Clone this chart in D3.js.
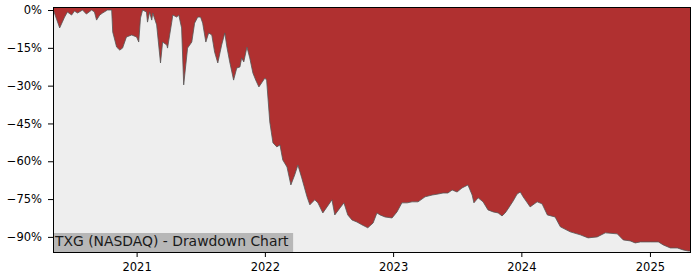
<!DOCTYPE html>
<html>
<head>
<meta charset="utf-8">
<script src="https://cdn.jsdelivr.net/npm/d3@7"></script>
<style>
  body { margin: 0; background: #fff; }
  .chart text { font-family: "DejaVu Sans", sans-serif; }
</style>
</head>
<body>
<div class="chart"></div>
<script>
// data (drawdown in percent)
var dates = [
  "2020-05-08", "2020-05-09", "2020-05-27", "2020-06-10", "2020-06-18", "2020-06-30", "2020-07-08",
  "2020-07-17", "2020-07-31", "2020-08-11", "2020-08-26", "2020-09-03", "2020-09-09", "2020-09-18",
  "2020-09-26", "2020-10-10", "2020-10-22", "2020-10-25", "2020-11-05", "2020-11-14", "2020-11-22",
  "2020-12-03", "2020-12-18", "2021-01-01", "2021-01-07", "2021-01-12", "2021-01-18", "2021-01-29",
  "2021-02-01", "2021-02-07", "2021-02-13", "2021-02-16", "2021-02-27", "2021-03-10", "2021-03-16",
  "2021-03-28", "2021-03-30", "2021-04-11", "2021-04-14", "2021-04-25", "2021-05-01", "2021-05-09",
  "2021-05-15", "2021-05-26", "2021-06-07", "2021-06-15", "2021-06-24", "2021-07-02", "2021-07-08",
  "2021-07-17", "2021-07-25", "2021-08-03", "2021-08-11", "2021-08-20", "2021-08-31", "2021-09-09",
  "2021-09-15", "2021-09-23", "2021-10-04", "2021-10-13", "2021-10-22", "2021-10-27", "2021-11-02",
  "2021-11-11", "2021-11-19", "2021-11-28", "2021-12-06", "2021-12-15", "2021-12-23", "2022-01-01",
  "2022-01-06", "2022-01-15", "2022-01-24", "2022-02-04", "2022-02-13", "2022-02-21", "2022-03-05",
  "2022-03-16", "2022-03-27", "2022-04-05", "2022-04-16", "2022-05-01", "2022-05-09", "2022-05-23",
  "2022-06-01", "2022-06-15", "2022-06-27", "2022-07-11", "2022-07-19", "2022-08-03", "2022-08-14",
  "2022-08-25", "2022-09-06", "2022-09-20", "2022-10-04", "2022-10-21", "2022-11-05", "2022-11-16",
  "2022-11-25", "2022-12-09", "2022-12-29", "2023-01-12", "2023-01-26", "2023-02-10", "2023-02-24",
  "2023-03-13", "2023-04-02", "2023-04-22", "2023-05-09", "2023-05-23", "2023-06-06", "2023-06-18",
  "2023-07-02", "2023-07-16", "2023-08-02", "2023-08-14", "2023-08-19", "2023-08-31", "2023-09-14",
  "2023-09-28", "2023-10-13", "2023-10-27", "2023-11-07", "2023-11-16", "2023-11-24", "2023-12-09",
  "2023-12-20", "2023-12-29", "2024-01-06", "2024-01-18", "2024-01-26", "2024-02-15", "2024-02-29",
  "2024-03-15", "2024-04-06", "2024-04-21", "2024-05-19", "2024-06-17", "2024-07-09", "2024-08-04",
  "2024-08-27", "2024-09-30", "2024-10-17", "2024-11-06", "2024-11-20", "2024-12-05", "2025-01-02",
  "2025-01-25", "2025-02-08", "2025-02-28", "2025-03-20", "2025-04-06", "2025-04-20", "2025-04-25"
];

var drawdown = [
  0, 0, -7.1, -2.8, -0.8, -2.0, -0.4,
  -1.2, 0, -1.6, 0, -0.8, -4.0, -2.0,
  -1.2, 0, 0, -8.7, -14.7, -15.9, -15.1,
  -10.7, -9.9, -10.7, -12.7, -3.2, 0, -0.8,
  -4.8, -0.8, -4.0, -1.2, -5.9, -21.0, -12.7,
  -13.9, -15.1, -4.8, -2.0, -2.8, -2.0, -7.1,
  -29.7, -15.1, -12.7, -5.2, -2.8, -2.8, -5.2,
  -12.7, -9.1, -9.9, -16.7, -21.0, -13.9, -9.1,
  -14.7, -20.6, -27.8, -23.0, -22.6, -19.0, -20.6,
  -14.7, -19.0, -25.0, -27.8, -30.5, -28.9, -27.0,
  -27.8, -44.4, -52.7, -54.3, -53.5, -59.5, -62.3,
  -69.4, -65.4, -61.5, -66.6, -74.1, -77.3, -75.3,
  -76.5, -80.5, -78.1, -75.3, -81.3, -78.5, -76.5,
  -81.3, -83.3, -84.1, -85.2, -86.4, -84.5, -80.5,
  -81.3, -82.1, -82.5, -80.1, -76.5, -76.5, -76.1,
  -76.1, -74.1, -73.4, -73.0, -72.6, -72.6, -71.4,
  -72.2, -70.6, -69.4, -73.4, -76.5, -74.5, -76.1,
  -79.3, -80.1, -80.5, -81.7, -80.5, -78.9, -75.7,
  -73.0, -72.2, -74.1, -76.5, -78.1, -76.1, -76.9,
  -81.3, -82.1, -86.0, -88.0, -89.2, -90.4, -90.0,
  -88.4, -88.8, -91.2, -91.6, -92.4, -92.0, -92.0,
  -92.0, -93.2, -94.4, -94.4, -95.2, -95.6, -95.6
];

var yTicks = [0, -15, -30, -45, -60, -75, -90];
var xTickYears = ["2021", "2022", "2023", "2024", "2025"];
var title = "TXG (NASDAQ) - Drawdown Chart";

// dimensions
var margin = {top: 7, right: 10, bottom: 28, left: 53};
var width = 700 - margin.left - margin.right;
var height = 280 - margin.top - margin.bottom;

var parseDate = d3.timeParse("%Y-%m-%d");
var parseYear = d3.timeParse("%Y");

var data = dates.map(function(d, i) {
  return {date: parseDate(d), value: drawdown[i]};
});

// ranges
var x = d3.scaleTime()
  .domain(d3.extent(data, function(d) { return d.date; }))
  .range([0, width]);
var y = d3.scaleLinear()
  .domain([-96, 1.2])
  .range([height, 0]);

var svg = d3.select(".chart")
  .append("svg")
  .attr("width", 700)
  .attr("height", 280);

var chart = svg.append("g")
  .attr("transform", "translate(" + margin.left + "," + margin.top + ")");

// red background = time spent below the peak
chart.append("rect")
  .attr("width", width)
  .attr("height", height)
  .attr("fill", "#b03030");

// light area under the drawdown curve
var area = d3.area()
  .x(function(d) { return x(d.date); })
  .y0(height)
  .y1(function(d) { return y(d.value); });

chart.append("path")
  .datum(data)
  .attr("d", area)
  .attr("fill", "#eeeeee");

var line = d3.line()
  .x(function(d) { return x(d.date); })
  .y(function(d) { return y(d.value); });

chart.append("path")
  .datum(data)
  .attr("d", line)
  .attr("fill", "none")
  .attr("stroke", "#555")
  .attr("stroke-opacity", 0.8)
  .attr("stroke-width", 1);

// title label with grey box
var label = chart.append("g");
var labelBox = label.append("rect")
  .attr("fill", "#808080")
  .attr("fill-opacity", 0.5);
var labelText = label.append("text")
  .attr("x", 2)
  .attr("y", height - 6)
  .attr("font-size", "13.9px")
  .attr("fill", "#1a1a1a")
  .text(title);
var bb = labelText.node().getBBox();
labelBox
  .attr("x", 0)
  .attr("y", height - 19)
  .attr("width", bb.width + 5)
  .attr("height", 19);

// frame
chart.append("rect")
  .attr("width", width)
  .attr("height", height)
  .attr("fill", "none")
  .attr("stroke", "#000")
  .attr("stroke-width", 1)
  .attr("shape-rendering", "crispEdges");

// y axis
var yAxis = chart.append("g")
  .call(d3.axisLeft(y)
    .tickValues(yTicks)
    .tickSize(5)
    .tickPadding(6)
    .tickFormat(function(d) { return (d < 0 ? "\u2212" + (-d) : d) + "%"; }));

// x axis
var xAxis = chart.append("g")
  .attr("transform", "translate(0," + height + ")")
  .call(d3.axisBottom(x)
    .tickValues(xTickYears.map(function(d) { return parseYear(d); }))
    .tickSize(5)
    .tickPadding(6)
    .tickFormat(d3.timeFormat("%Y")));

[yAxis, xAxis].forEach(function(a) {
  a.select(".domain").remove();
  a.selectAll("text")
    .attr("font-family", "DejaVu Sans")
    .attr("font-size", "11.5px")
    .attr("fill", "#000");
  a.selectAll("line").attr("stroke", "#000");
});
</script>
</body>
</html>
